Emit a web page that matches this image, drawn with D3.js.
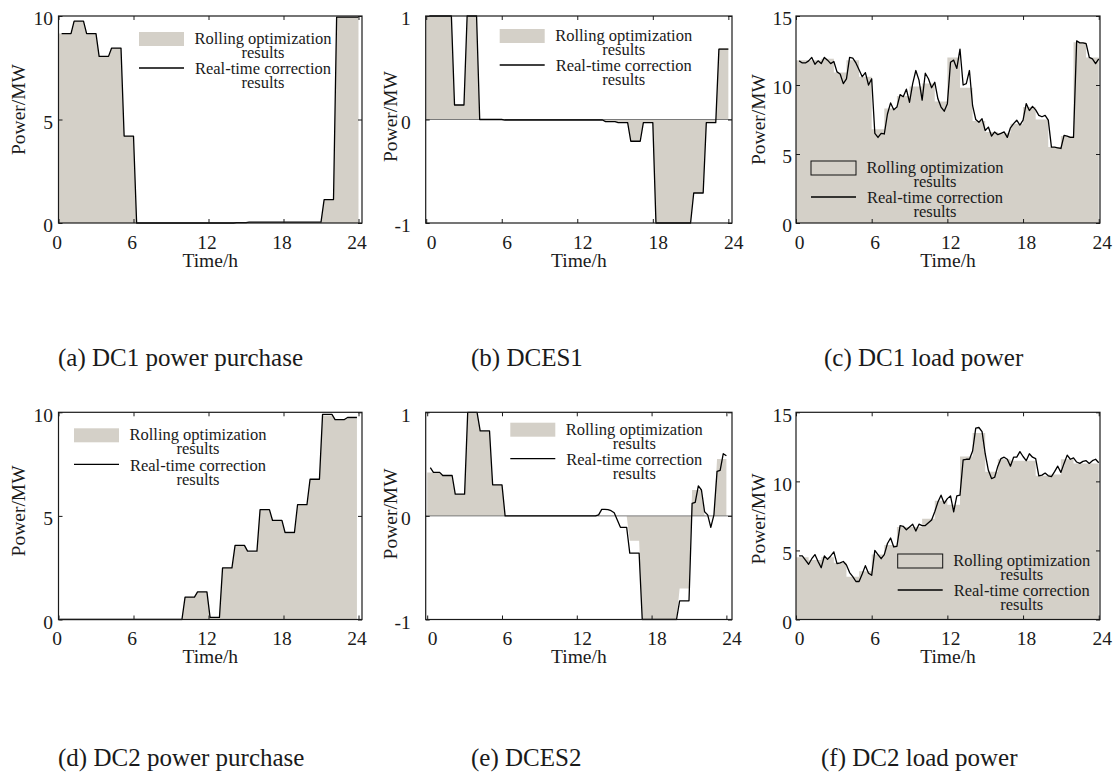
<!DOCTYPE html>
<html><head><meta charset="utf-8">
<script src="https://cdn.jsdelivr.net/npm/d3@7"></script>
<style>
body{margin:0;background:#fff}
text{font-family:"Liberation Serif","Times New Roman",Times,serif;fill:#1a1a1a}
</style>
</head><body>
<svg id="chart" width="1118" height="776"></svg>
<script>
// ---------------- data ----------------
const hours = [0,1,2,3,4,5,6,7,8,9,10,11,12,13,14,15,16,17,18,19,20,21,22,23];
const hourTicks = [0, 6, 12, 18, 24];

// (a) DC1 power purchase (MW), hourly
const aRoll = [9.15, 9.75, 9.15, 8.05, 8.45, 4.2, 0, 0, 0, 0, 0, 0, 0, 0, 0, 0, 0, 0, 0, 0, 0, 1.13, 9.95, 9.95];
const aReal = [9.15, 9.75, 9.15, 8.05, 8.45, 4.2, 0, 0, 0, 0, 0, 0, 0, 0, 0.02, 0.04, 0.04, 0.04, 0.04, 0.04, 0.04, 1.13, 9.95, 9.95];

// (b) DCES1 (MW), hourly
const bRoll = [1, 1, 0.14, 1, 0, 0, 0, 0, 0, 0, 0, 0, 0, 0, -0.02, -0.03, -0.21, -0.03, -1, -1, -1, -0.71, -0.03, 0.69];
const bReal = [1, 1, 0.14, 1, 0, 0, -0.005, -0.005, -0.005, -0.005, -0.005, -0.005, -0.005, -0.005, -0.02, -0.03, -0.21, -0.03, -1, -1, -1, -0.71, -0.03, 0.68];

// (c) DC1 load power: rolling (hourly) and real-time (15 min, t = 0.25 .. 24)
const cRoll = [11.8, 11.8, 11.9, 10.9, 11.8, 10.6, 6.8, 8.3, 9.2, 9.9, 10.1, 8.8, 12.0, 9.8, 7.4, 6.6, 6.5, 7.2, 8.4, 7.5, 5.5, 6.3, 13.1, 12.0];
const cReal = [11.75, 11.6, 11.6, 11.75, 12.0, 11.5, 11.75, 11.55, 12.0, 11.8, 11.55, 11.7,
  10.95, 10.8, 10.1, 10.45, 12.0, 11.95, 11.6, 11.1,
  10.6, 10.9, 10.0, 10.45,
  6.5, 6.2, 6.5, 6.45,
  7.9, 8.7, 8.2, 8.4,
  9.3, 9.15, 9.7, 8.75,
  10.1, 11.05, 10.35, 8.9,
  10.85, 10.45, 9.8, 10.2,
  9.0, 8.4, 8.1, 8.65,
  11.65, 11.8, 11.2, 12.6,
  10.0, 10.1, 11.05, 8.5,
  7.5, 7.3, 7.55, 6.7,
  6.95, 6.3, 6.6, 6.4,
  6.5, 6.6, 6.2, 6.9,
  7.2, 7.45, 7.1, 7.45,
  8.65, 8.15, 8.45, 8.2,
  7.8, 7.7, 7.8, 7.45,
  5.5, 5.5, 5.45, 5.4,
  6.35, 6.3, 6.2, 6.2,
  13.2, 13.05, 13.05, 13.0,
  12.0, 11.9, 11.55, 11.9];

// (d) DC2 power purchase (MW), hourly
const dRoll = [0, 0, 0, 0, 0, 0, 0, 0, 0, 0, 1.08, 1.33, 0.1, 2.49, 3.58, 3.25, 5.3, 4.75, 4.15, 5.54, 6.77, 9.85, 9.65, 9.7];
const dReal = [0, 0, 0, 0, 0, 0, 0, 0, 0, 0, 1.08, 1.33, 0.1, 2.49, 3.58, 3.3, 5.3, 4.78, 4.2, 5.54, 6.77, 9.9, 9.65, 9.75];

// (e) DCES2: rolling (hourly) and real-time (15 min)
const eRoll = [0.42, 0.39, 0.21, 1.0, 0.82, 0.30, 0, 0, 0, 0, 0, 0, 0, 0, 0, 0, -0.24, -1, -1, -1, -0.70, 0.25, 0, 0.55];
const eReal = [0.465, 0.42, 0.42, 0.42,
  0.39, 0.39, 0.39, 0.39,
  0.21, 0.21, 0.21, 0.21,
  1.0, 1.0, 1.0, 1.0,
  0.82, 0.82, 0.82, 0.82,
  0.30, 0.30, 0.30, 0.30,
  0, 0, 0, 0,  0, 0, 0, 0,  0, 0, 0, 0,  0, 0, 0, 0,
  0, 0, 0, 0,  0, 0, 0, 0,  0, 0, 0, 0,
  0, 0, 0.01, 0.063,
  0.063, 0.06, 0.05, 0.03,
  -0.04, -0.11, -0.11, -0.11,
  -0.36, -0.36, -0.36, -0.36,
  -1, -1, -1, -1,  -1, -1, -1, -1,  -1, -1, -1, -1,
  -0.82, -0.82, -0.82, -0.82,
  0.12, 0.13, 0.29, 0.25,
  0.04, 0.01, -0.11, 0.01,
  0.43, 0.44, 0.60, 0.58];

// (f) DC2 load power
const fRoll = [4.5, 4.3, 4.5, 4.1, 3.1, 3.5, 4.7, 5.4, 6.7, 6.7, 7.3, 8.6, 8.3, 11.8, 13.5, 10.7, 11.6, 11.5, 11.5, 10.4, 10.5, 11.6, 11.3, 11.3];
const fReal = [4.6, 4.6, 4.3, 4.0,
  4.4, 4.7, 4.2, 3.75,
  4.6, 4.35, 4.6, 4.9,
  4.05, 4.1, 4.2, 3.95,
  3.4, 3.1, 2.75, 2.75,
  3.3, 3.9, 3.35, 3.2,
  5.0, 4.7, 4.4, 4.7,
  5.5, 5.9, 5.25, 5.3,
  6.8, 6.75, 6.5, 6.7,
  6.9, 6.4, 6.9, 6.8,
  6.8, 7.0, 7.2, 7.8,
  8.5, 9.0, 8.4, 8.75,
  8.95, 7.8, 8.95, 9.0,
  11.55, 11.6, 11.6, 12.2,
  13.85, 13.9, 13.6, 12.0,
  10.8, 10.2, 10.3, 11.1,
  11.65, 11.75, 11.6, 11.1,
  11.75, 11.75, 12.15, 11.8,
  11.5, 12.0, 11.75, 11.65,
  10.4, 10.45, 10.6, 10.4,
  10.35, 10.7, 11.1, 10.65,
  11.3, 11.9, 11.6, 11.7,
  11.4, 11.3, 11.45, 11.5,
  11.3, 11.5, 11.6, 11.35];

const legendLabels = ["Rolling optimization", "results", "Real-time correction", "results"];
const captions = ["(a) DC1 power purchase", "(b) DCES1", "(c) DC1 load power",
                  "(d) DC2 power purchase", "(e) DCES2", "(f) DC2 load power"];
const yLabel = "Power/MW";
const xLabel = "Time/h";

// ---------------- layout / style ----------------
const GREY = "#d4d0c8";
const INK = "#1a1a1a";
const colX = [[58.5, 362], [425.7, 732], [796, 1100]];
const rowY = [[16, 223], [412.3, 619.5]];
const yTickGap = [5.5, 15, 4];
const yLabelX = [18, 390, 758];
const xLabelDx = [-2, 5, 3];

const panels = [
  {col:0,row:0,xDom:[0,24.28],yDom:[0,10],yTicks:[0,5,10],roll:aRoll,real:aReal,shape:"ramp",shift:0,
   leg:[80.5,16],boxed:false,labShift:-10,cap:[58,366]},
  {col:1,row:0,xDom:[-0.04,24.29],yDom:[-1,1],yTicks:[-1,0,1],roll:bRoll,real:bReal,shape:"ramp",shift:0,
   leg:[74,13],boxed:false,labShift:-3,cap:[471,366]},
  {col:2,row:0,xDom:[0,24.1],yDom:[0,15],yTicks:[0,5,10,15],roll:cRoll,real:cReal,shape:"step",shift:0,
   leg:[15,145],boxed:true,labShift:0,cap:[824,366]},
  {col:0,row:1,xDom:[0,24.28],yDom:[0,10],yTicks:[0,5,10],roll:dRoll,real:dReal,shape:"ramp",shift:-0.125,
   leg:[15.5,16],boxed:false,labShift:-5,cap:[58,766]},
  {col:1,row:1,xDom:[-0.12,24.45],yDom:[-1,1],yTicks:[-1,0,1],roll:eRoll,real:eReal,shape:"ramp",shift:0,
   leg:[84.6,10.4],boxed:false,labShift:-2,cap:[471,766]},
  {col:2,row:1,xDom:[0,24.1],yDom:[0,15],yTicks:[0,5,10,15],roll:fRoll,real:fReal,shape:"step",shift:0,
   leg:[101.7,141.7],boxed:true,labShift:3,cap:[821,766]}
];

const svg = d3.select("#chart");

function rampPoints(vals, first, shift) {
  const pts = [[first + shift, vals[0]]];
  hours.forEach(h => { pts.push([h + 0.25 + shift, vals[h]], [h + 1 + shift, vals[h]]); });
  return pts;
}

panels.forEach((p, i) => {
  const [x0, x1] = colX[p.col];
  const [y0, y1] = rowY[p.row];
  const x = d3.scaleLinear().domain(p.xDom).range([x0, x1]);
  const y = d3.scaleLinear().domain(p.yDom).range([y1, y0]);
  const g = svg.append("g");

  const clipId = "clip" + i;
  svg.append("clipPath").attr("id", clipId).append("rect")
    .attr("x", x0).attr("y", y0 - 1).attr("width", x1 - x0).attr("height", y1 - y0 + 2);
  const plot = g.append("g").attr("clip-path", `url(#${clipId})`);

  // rolling optimization (grey area)
  let areaPts, curve;
  if (p.shape === "step") {
    areaPts = hours.map(h => [h, p.roll[h]]).concat([[24, p.roll[23]]]);
    curve = d3.curveStepAfter;
  } else {
    areaPts = rampPoints(p.roll, 0, p.shift);
    curve = d3.curveLinear;
  }
  plot.append("path")
    .attr("d", d3.area().x(d => x(d[0])).y0(y(0)).y1(d => y(d[1])).curve(curve)(areaPts))
    .attr("fill", GREY).attr("stroke", "none");

  if (p.yDom[0] < 0) {
    plot.append("line").attr("x1", x0).attr("x2", x1).attr("y1", y(0)).attr("y2", y(0))
      .attr("stroke", "#7a7a7a").attr("stroke-width", 1);
  }

  // real-time correction (black line)
  const linePts = p.real.length === 24
    ? rampPoints(p.real, 0.25, p.shift)
    : p.real.map((v, k) => [(k + 1) / 4, v]);
  plot.append("path")
    .attr("d", d3.line().x(d => x(d[0])).y(d => y(d[1]))(linePts))
    .attr("fill", "none").attr("stroke", "#000").attr("stroke-width", 1.3)
    .attr("stroke-linejoin", "round");

  // axes
  const styleAxis = sel => {
    sel.select(".domain").remove();
    sel.selectAll(".tick line").attr("stroke", INK).attr("stroke-width", 1);
    sel.selectAll("text").attr("font-family", '"Liberation Serif","Times New Roman",serif')
      .attr("font-size", 19.5).attr("fill", INK);
  };
  g.append("g").attr("transform", `translate(0,${y1})`)
    .call(d3.axisBottom(x).tickValues(hourTicks).tickSize(-4).tickPadding(12).tickFormat(d => String(d)))
    .call(styleAxis)
    .selectAll("text").attr("dx", xLabelDx[p.col]);
  g.append("g").attr("transform", `translate(0,${y0})`)
    .call(d3.axisTop(x).tickValues(hourTicks).tickSize(-4).tickFormat(""))
    .call(styleAxis);
  g.append("g").attr("transform", `translate(${x0},0)`)
    .call(d3.axisLeft(y).tickValues(p.yTicks).tickSize(-4).tickPadding(yTickGap[p.col]).tickFormat(d => String(d)))
    .call(styleAxis)
    .selectAll("text").attr("dy", "0.45em");
  g.append("g").attr("transform", `translate(${x1},0)`)
    .call(d3.axisRight(y).tickValues(p.yTicks).tickSize(-4).tickFormat(""))
    .call(styleAxis);

  g.append("rect").attr("x", x0).attr("y", y0).attr("width", x1 - x0).attr("height", y1 - y0)
    .attr("fill", "none").attr("stroke", INK).attr("stroke-width", 1.2);

  // axis titles
  g.append("text")
    .attr("transform", `translate(${yLabelX[p.col]},${(y0 + y1) / 2 + p.labShift}) rotate(-90)`)
    .attr("text-anchor", "middle").attr("dy", "0.35em").attr("font-size", 19.5).text(yLabel);
  g.append("text").attr("x", (x0 + x1) / 2).attr("y", y1 + 37).attr("dy", "0.35em")
    .attr("text-anchor", "middle").attr("font-size", 19.5).text(xLabel);

  // legend
  const lx = x0 + p.leg[0], ly = y0 + p.leg[1];
  g.append("rect").attr("x", lx).attr("y", ly).attr("width", 45).attr("height", 14)
    .attr("fill", GREY).attr("stroke", p.boxed ? "#111" : "none").attr("stroke-width", 1);
  g.append("line").attr("x1", lx).attr("x2", lx + 45).attr("y1", ly + 36).attr("y2", ly + 36)
    .attr("stroke", "#000").attr("stroke-width", 1.3);
  const tx = lx + 124;
  const ty = [ly + 6.5, ly + 20.5, ly + 37, ly + 51];
  legendLabels.forEach((t, k) => {
    g.append("text").attr("x", tx).attr("y", ty[k]).attr("dy", "0.33em")
      .attr("text-anchor", "middle").attr("font-size", 16.5).text(t);
  });

  // caption
  svg.append("text").attr("x", p.cap[0]).attr("y", p.cap[1])
    .attr("font-size", 25).attr("text-anchor", "start").text(captions[i]);
});
</script>
</body></html>
